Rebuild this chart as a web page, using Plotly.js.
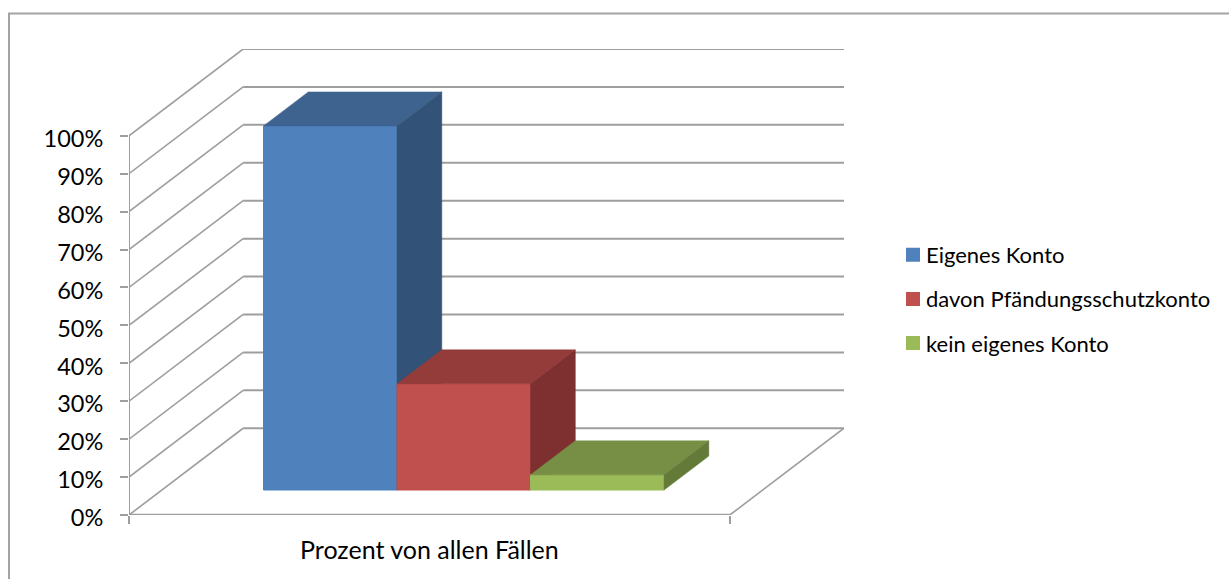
<!DOCTYPE html>
<html><head><meta charset="utf-8">
<script src="https://cdn.plot.ly/plotly-3.0.1.min.js"></script>
<style>html,body{margin:0;padding:0;background:#fff}</style></head>
<body><div id="chart" style="width:1229px;height:579px"></div>
<script>
// Data
const seriesNames = ['Eigenes Konto', 'davon Pfändungsschutzkonto', 'kein eigenes Konto'];
const seriesValues = [96, 28, 4];
const categoryLabel = 'Prozent von allen Fällen';
const tickValues = [0,10,20,30,40,50,60,70,80,90,100];
const tickLabels = ['0%','10%','20%','30%','40%','50%','60%','70%','80%','90%','100%'];
const frontColors = ['#4F81BD','#C0504D','#9BBB59'];
const topColors = ['#3E638F','#933C3A','#778F44'];
const sideColors = ['#325277','#7D302F','#647A39'];

// Oblique projection of the 3-D box on the flat axes
const DEPTH_X = 0.19, DEPTH_Y = 22.87;
const X_RANGE = [0, 1 + DEPTH_X], Y_RANGE = [0, 100 + DEPTH_Y];
const px = (x, d) => x + d * DEPTH_X;
const py = (v, d) => v + d * DEPTH_Y;
const GAP = 1/6 + 0.0025, BAR_W = 2/9, D0 = 0.288, D1 = 0.68;
const GRID = '#9E9E9E', FONT = 'Lato, Carlito, sans-serif';

const traces = [];
// walls: side-wall diagonals
const sx = [], sy = [], bx = [], by = [];
tickValues.forEach(v => {
  sx.push(px(0,0), px(0,1), null); sy.push(py(v,0), py(v,1), null);
  bx.push(px(0,1), px(1,1), null); by.push(py(v,1), py(v,1), null);
});
traces.push({type:'scatter',mode:'lines',x:sx,y:sy,line:{color:GRID,width:1.6},showlegend:false,hoverinfo:'skip'});
traces.push({type:'scatter',mode:'lines',x:bx,y:by,line:{color:GRID,width:2},showlegend:false,hoverinfo:'skip'});
// floor right edge
traces.push({type:'scatter',mode:'lines',x:[px(1,0),px(1,1)],y:[py(0,0),py(0,1)],line:{color:GRID,width:1.6},showlegend:false,hoverinfo:'skip'});
// axes
traces.push({type:'scatter',mode:'lines',x:[0,0],y:[0,100],line:{color:GRID,width:2},showlegend:false,hoverinfo:'skip'});
traces.push({type:'scatter',mode:'lines',x:[0,1],y:[0,0],line:{color:GRID,width:2.4},showlegend:false,hoverinfo:'skip'});

seriesNames.forEach((name,i) => {
  const xa = 'x' + (i+2), ya = 'y' + (i+2);
  const l = GAP + i*BAR_W, r = l + BAR_W, v = seriesValues[i];
  traces.push({type:'bar',name:name,legendgroup:name,xaxis:xa,yaxis:ya,
    x:[px(l + BAR_W/2, D0)],y:[v],base:[py(0,D0)],width:[BAR_W],
    marker:{color:frontColors[i],line:{color:frontColors[i],width:1}},hoverinfo:'name+y'});
  traces.push({type:'scatter',mode:'lines',fill:'toself',fillcolor:topColors[i],line:{color:topColors[i],width:0.5},
    xaxis:xa,yaxis:ya,showlegend:false,hoverinfo:'skip',
    x:[px(l,D0),px(r,D0),px(r,D1),px(l,D1),px(l,D0)],
    y:[py(v,D0),py(v,D0),py(v,D1),py(v,D1),py(v,D0)]});
  traces.push({type:'scatter',mode:'lines',fill:'toself',fillcolor:sideColors[i],line:{color:sideColors[i],width:0.5},
    xaxis:xa,yaxis:ya,showlegend:false,hoverinfo:'skip',
    x:[px(r,D0),px(r,D1),px(r,D1),px(r,D0),px(r,D0)],
    y:[py(0,D0),py(0,D1),py(v,D1),py(v,D0),py(0,D0)]});
});

const hidden = o => Object.assign({visible:false,fixedrange:true},o);
const layout = {
  width:1229,height:579,paper_bgcolor:'#fff',plot_bgcolor:'rgba(0,0,0,0)',
  margin:{l:129,r:385,t:49,b:64,autoexpand:false},
  barmode:'overlay',
  font:{family:FONT,size:22,color:'#000'},
  xaxis:{range:X_RANGE,showgrid:false,zeroline:false,showline:false,fixedrange:true,
    tickmode:'array',tickvals:[0.5],ticktext:[categoryLabel],ticks:'outside',ticklen:13,tickcolor:'rgba(0,0,0,0)',
    minor:{tickmode:'array',tickvals:[0,1],ticks:'outside',ticklen:8,tickcolor:GRID,tickwidth:2,showgrid:false},
    tickfont:{family:FONT,size:25,color:'#000'}},
  yaxis:{range:Y_RANGE,showgrid:false,zeroline:false,showline:false,fixedrange:true,
    tickmode:'array',tickvals:tickValues,ticktext:tickLabels,ticks:'outside',ticklen:8,tickcolor:GRID,tickwidth:2,
    ticklabelstandoff:12,ticklabelshift:3,tickfont:{family:FONT,size:23.5,color:'#000'}},
  xaxis2:hidden({range:X_RANGE,overlaying:'x'}),yaxis2:hidden({range:Y_RANGE,overlaying:'y'}),
  xaxis3:hidden({range:X_RANGE,overlaying:'x'}),yaxis3:hidden({range:Y_RANGE,overlaying:'y'}),
  xaxis4:hidden({range:X_RANGE,overlaying:'x'}),yaxis4:hidden({range:Y_RANGE,overlaying:'y'}),
  legend:{x:(886-129)/715,xanchor:'left',y:(515-234)/466,yanchor:'top',tracegroupgap:12.5,traceorder:'grouped',
    font:{family:FONT,size:22,color:'#000'},bgcolor:'rgba(0,0,0,0)',itemclick:false,itemdoubleclick:false},
  shapes:[{type:'rect',xref:'paper',yref:'paper',layer:'below',
    x0:(9-129)/715,x1:(1240-129)/715,y0:(515-590)/466,y1:(515-13.5)/466,line:{color:'#A3A3A3',width:2},fillcolor:'rgba(0,0,0,0)'}]
};
Plotly.newPlot('chart',traces,layout,{displayModeBar:false,staticPlot:true}).then(gd => {
  // Excel places the swatch closer to its label than Plotly's minimum item width allows
  gd.querySelectorAll('.legend .legendsymbols').forEach(g => g.setAttribute('transform','translate(7,0)'));
  gd.querySelectorAll('.legend .legendpoints path').forEach(p => { p.style.strokeWidth = '2px'; });
});
</script></body></html>
